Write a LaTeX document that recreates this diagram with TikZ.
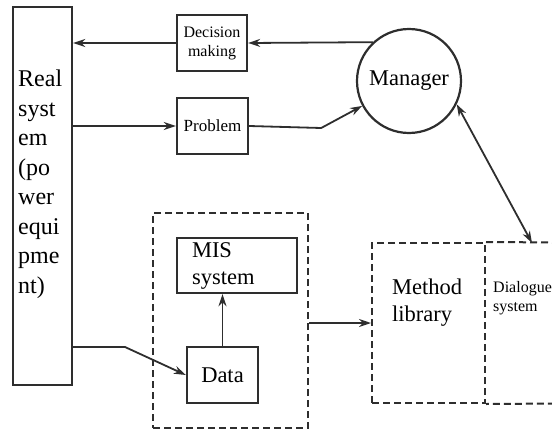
\documentclass[tikz,border=0pt]{standalone}
\usepackage{fontspec}
\setmainfont{Liberation Serif}
\usetikzlibrary{arrows.meta}
\definecolor{ink}{HTML}{2E2E2E}
\begin{document}
\begin{tikzpicture}[x=1pt,y=-1pt,
  box/.style={draw=ink, line width=2.4pt, inner sep=0pt},
  dline/.style={draw=ink, line width=2pt, dash pattern=on 7pt off 4pt},
  dbox/.style={dline, inner sep=0pt},
  arr/.style={draw=ink, line width=1.8pt, -{Stealth[length=12pt,width=8pt]}},
  darr/.style={draw=ink, line width=1.8pt, {Stealth[length=12pt,width=8pt]}-{Stealth[length=12pt,width=8pt]}},
  bigtxt/.style={font=\fontsize{22.5}{27}\selectfont},
  smalltxt/.style={font=\fontsize{16}{19}\selectfont}]
\useasboundingbox (0,0) rectangle (552,434);
\clip (0,0) rectangle (552,434);
% boxes
\node[box, minimum width=59pt, minimum height=378pt] (real) at (42.5,196) {};
\node[anchor=north west, align=left, inner sep=0pt, font=\fontsize{24}{29.5}\selectfont] (realtxt) at (18,70)
  {Real\\syst\\em\\(po\\wer\\equi\\pme\\nt)};
\node[box, minimum width=70pt, minimum height=56pt, align=center, smalltxt] (dec) at (212,43) {Decision\\making};
\node[box, minimum width=71pt, minimum height=56pt, font=\fontsize{17}{19}\selectfont] (prob) at (212.5,126) {Problem};
\node[draw=ink, circle, line width=2.2pt, minimum size=104pt, inner sep=0pt, bigtxt] (manager) at (409,81) {Manager};
\node[dbox, minimum width=155pt, minimum height=215pt] (db) at (230.5,320.5) {};
\node[box, text width=90pt, inner xsep=15pt, inner ysep=0pt, minimum height=55pt, align=left, bigtxt] (mis) at (237,265.5) {MIS\\system};
\node[box, minimum width=71pt, minimum height=56pt, bigtxt] (data) at (222.5,375) {Data};
\node[dbox, minimum width=113pt, minimum height=160pt] (meth) at (428.5,323) {};
\node[anchor=north west, align=left, inner sep=0pt, bigtxt] (methtxt) at (392,279) {Method\\library};
\node[minimum width=120pt, minimum height=160pt, inner sep=0pt] (dlg) at (545,323) {};
\draw[dline] (meth.north east) -- (dlg.north east) -- (dlg.south east) -- (meth.south east);
\node[anchor=north west, align=left, inner sep=0pt, font=\fontsize{16}{19}\selectfont] (dlgtxt) at (493,281) {Dialogue\\system};
% connectors
\draw[arr] (manager.133) -- (dec.east);
\draw[arr] (dec.west) -- (dec.west -| real.east);
\draw[arr] (prob.west -| real.east) -- (prob.west);
\draw[arr] (prob.east) -- ++(72,2) -- (manager.208);
\coordinate (rd) at (real.east |- 0,347);
\draw[arr] (rd) -- (125,347) -- (data.west);
\draw[arr] (data.north) -- (mis.south -| data.north);
\draw[arr] (db.east |- meth.west) -- (meth.west);
\coordinate (dlgtop) at (532,243);
\draw[darr] (manager.334) -- (dlgtop);
\end{tikzpicture}
\end{document}
